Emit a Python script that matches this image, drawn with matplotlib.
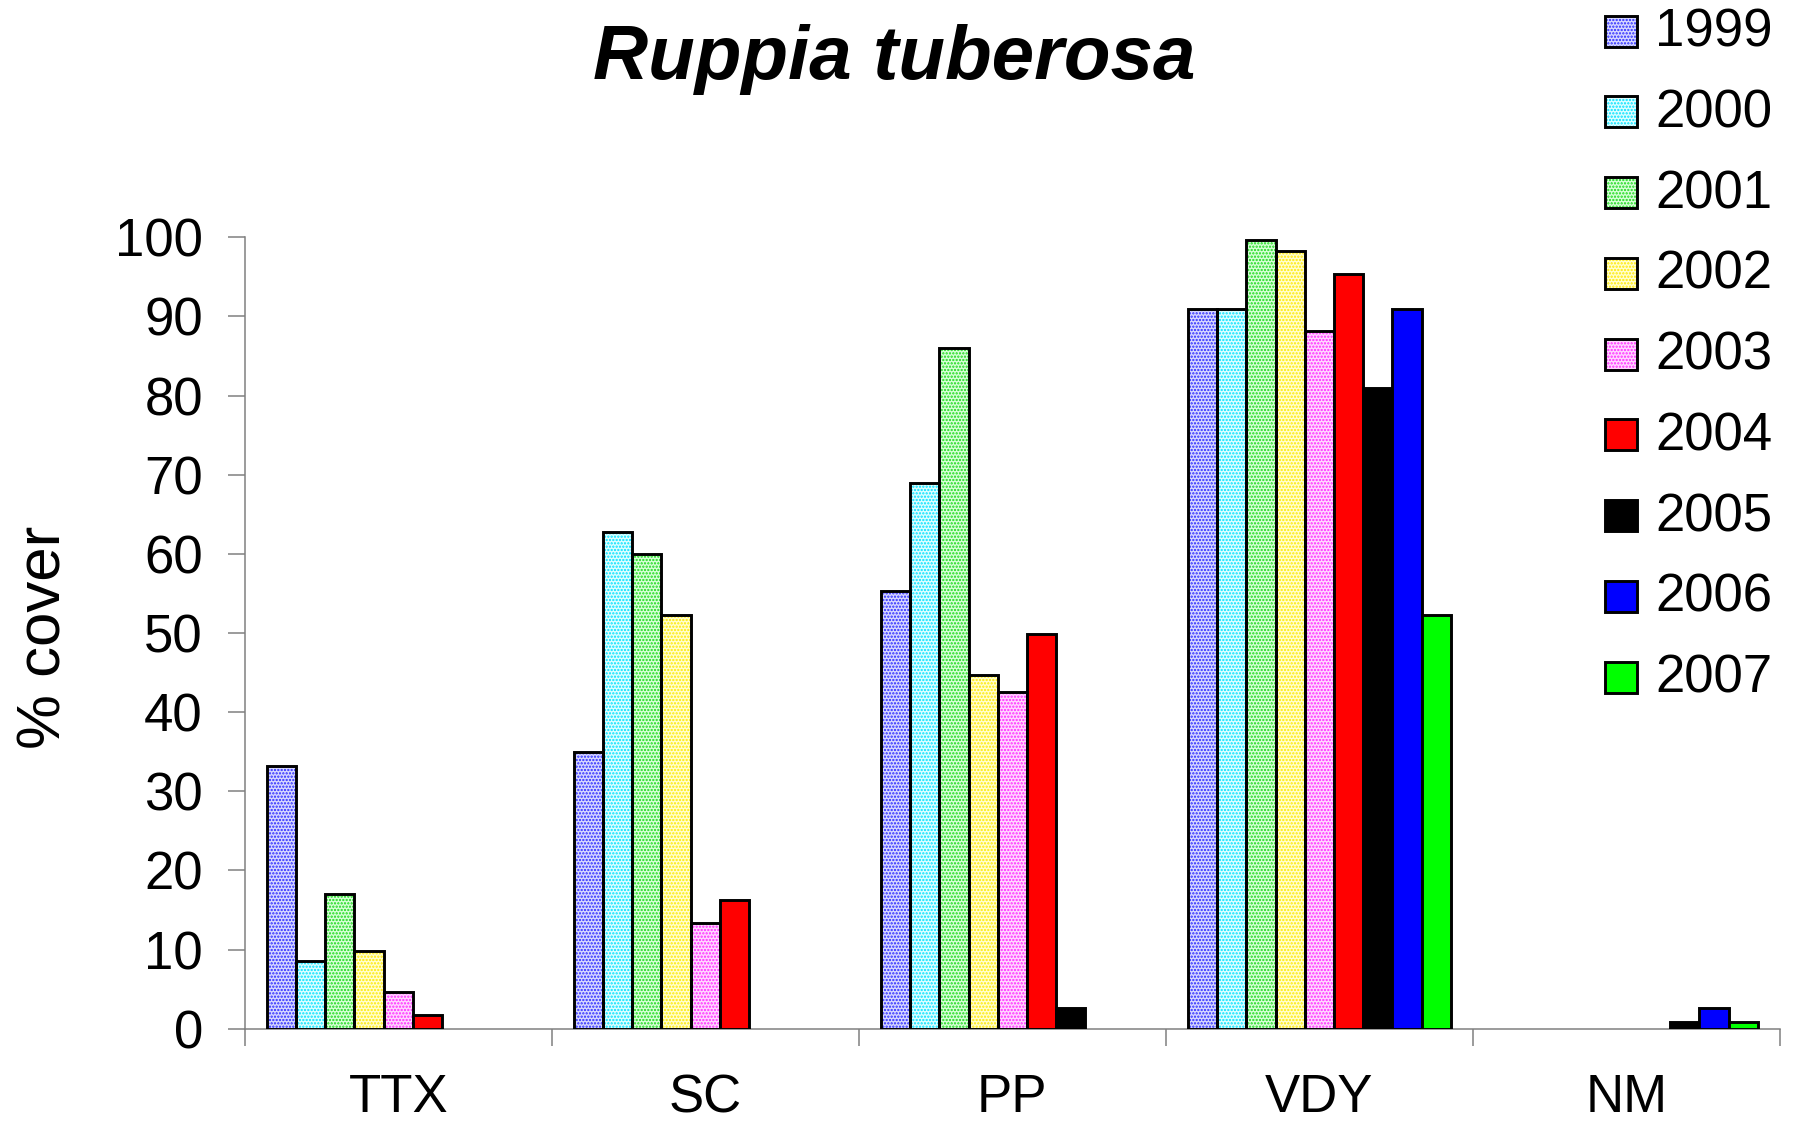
import numpy as np
import matplotlib
matplotlib.use("Agg")
import matplotlib.pyplot as plt
from matplotlib.patches import Rectangle

plt.rcParams['font.family'] = ['Liberation Sans', 'DejaVu Sans']
plt.rcParams['hatch.linewidth'] = 1.1

sites = ["TTX", "SC", "PP", "VDY", "NM"]
years = ["1999", "2000", "2001", "2002", "2003", "2004", "2005", "2006", "2007"]
nan = np.nan
# % cover per year, one value per site (TTX, SC, PP, VDY, NM); nan = no bar
cover_1999 = [33.2, 35.0, 55.3, 91.0, nan]
cover_2000 = [8.5, 62.7, 68.9, 91.0, nan]
cover_2001 = [17.0, 60.0, 86.0, 99.6, nan]
cover_2002 = [9.8, 52.3, 44.7, 98.3, nan]
cover_2003 = [4.6, 13.3, 42.6, 88.1, nan]
cover_2004 = [1.7, 16.2, 49.9, 95.3, nan]
cover_2005 = [nan, nan, 2.6, 81.0, 0.9]
cover_2006 = [nan, nan, nan, 91.0, 2.6]
cover_2007 = [nan, nan, nan, 52.3, 0.9]
series = [cover_1999, cover_2000, cover_2001, cover_2002, cover_2003,
          cover_2004, cover_2005, cover_2006, cover_2007]

face_colors = ['#d8d8ff', '#e0ffff', '#d8ffd8', '#ffffd0', '#ffd8ff',
               '#ff0000', '#000000', '#0000ff', '#00ff00']
dot_colors = ['#2828ff', '#00e0ff', '#18d818', '#ffe800', '#ff28ff',
              None, None, None, None]
hatches = ['.....'] * 5 + [None] * 4

W, H = 1793, 1131
fig = plt.figure(figsize=(W / 100, H / 100), dpi=100)
y0_px, y100_px = 1028.7, 237.3
left_px, right_px = 244.7, 1780
ax = fig.add_axes([left_px / W, (H - y0_px) / H,
                   (right_px - left_px) / W, (y0_px - y100_px) / H])

x = np.arange(len(sites))
bw = 0.0951
n = len(years)
for i, vals in enumerate(series):
    pos = x + (i - (n - 1) / 2) * bw
    v = np.array(vals, dtype=float)
    m = ~np.isnan(v)
    if hatches[i]:
        ax.bar(pos[m], v[m], bw, facecolor=face_colors[i], edgecolor=dot_colors[i],
               hatch=hatches[i], linewidth=0, zorder=2)
        ax.bar(pos[m], v[m], bw, facecolor='none', edgecolor='black',
               linewidth=2.1, zorder=3)
    else:
        ax.bar(pos[m], v[m], bw, facecolor=face_colors[i], edgecolor='black',
               linewidth=2.1, zorder=3)

ax.set_xlim(-0.5, len(sites) - 0.5)
ax.set_ylim(0, 100)
ax.set_yticks(np.arange(0, 101, 10))
ax.set_xticks(np.arange(-0.5, len(sites), 1.0))
ax.set_xticklabels([])
ax.set_xticks(x, minor=True)
ax.set_xticklabels(sites, minor=True)
ax.tick_params(axis='x', which='major', direction='out', length=12.2, width=1.1,
               color='#808080')
ax.tick_params(axis='x', which='minor', length=0, pad=32, labelsize=38)
ax.tick_params(axis='y', direction='out', length=12.2, width=1.1, color='#808080',
               pad=18, labelsize=38)
for s in ['top', 'right']:
    ax.spines[s].set_visible(False)
for s in ['left', 'bottom']:
    ax.spines[s].set_color('#808080')
    ax.spines[s].set_linewidth(1.1)
    ax.spines[s].set_zorder(1)

fig.text(45 / W, 1 - 637 / H, "% cover", rotation=90, ha='center', va='center',
         fontsize=44.5)
fig.text(894 / W, 1 - 79 / H, "Ruppia tuberosa", ha='center', va='baseline',
         fontsize=55, fontweight='bold', fontstyle='italic')

# legend drawn manually
for i, yr in enumerate(years):
    base = 46.7 + 80.75 * i
    rx, rw, rh = 1605, 32, 31
    if hatches[i]:
        fig.add_artist(Rectangle((rx / W, 1 - base / H), rw / W, rh / H,
                                 transform=fig.transFigure, facecolor=face_colors[i],
                                 edgecolor=dot_colors[i], hatch=hatches[i], linewidth=0))
        fig.add_artist(Rectangle((rx / W, 1 - base / H), rw / W, rh / H,
                                 transform=fig.transFigure, facecolor='none',
                                 edgecolor='black', linewidth=2.1))
    else:
        fig.add_artist(Rectangle((rx / W, 1 - base / H), rw / W, rh / H,
                                 transform=fig.transFigure, facecolor=face_colors[i],
                                 edgecolor='black', linewidth=2.1))
    fig.text(1655 / W, 1 - base / H, yr, ha='left', va='baseline', fontsize=38)

fig.savefig("out.png", dpi=100)
